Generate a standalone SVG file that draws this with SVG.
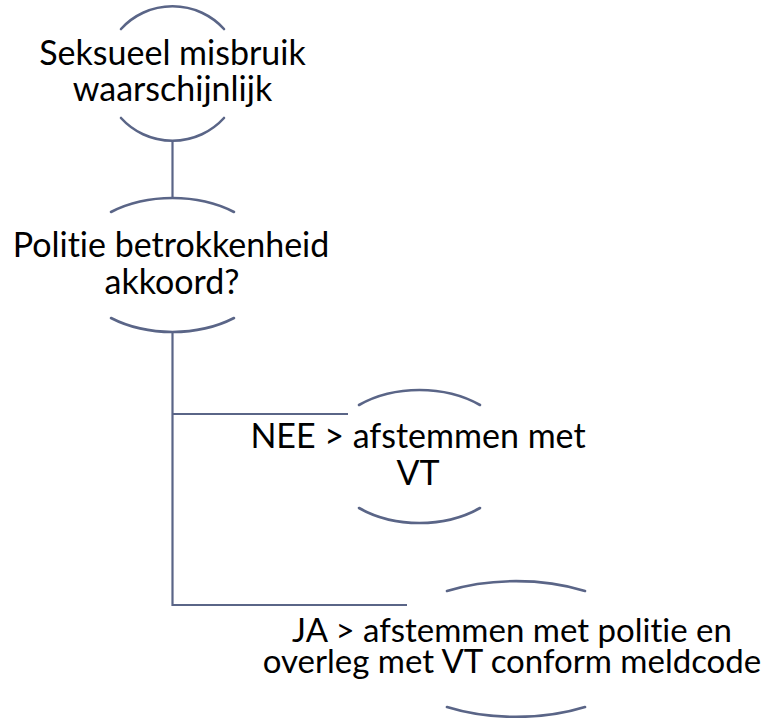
<svg xmlns="http://www.w3.org/2000/svg" width="776" height="718" viewBox="0 0 776 718">
<style>
.arc{fill:none;stroke:#5a6587;stroke-width:2.6;stroke-linecap:round}
.conn{fill:none;stroke:#5a6587;stroke-width:2.2}
text{font-family:Lato,"Open Sans","Liberation Sans",sans-serif;font-size:34px;fill:#000;text-anchor:middle;font-variant-ligatures:none}
.tight{font-size:33px}
</style>
<rect width="776" height="718" fill="#fff"/>
<g id="connectors">
<line class="conn" x1="172.5" y1="142" x2="172.5" y2="198"/>
<polyline class="conn" points="172.5,333 172.5,605 407,605"/>
<line class="conn" x1="172.5" y1="414" x2="348" y2="414"/>
</g>
<g id="node1">
<path class="arc" d="M121,29 A69,68 0 0 1 224,29"/>
<path class="arc" d="M121,118 A69,68 0 0 0 224,118"/>
<text x="172.5" y="65">Seksueel misbruik</text>
<text x="172.5" y="101">waarschijnlijk</text>
</g>
<g id="node2">
<path class="arc" d="M111,212 A101,67.5 0 0 1 234,212"/>
<path class="arc" d="M111,318 A101,67.5 0 0 0 234,318"/>
<text x="171" y="257">Politie betrokkenheid</text>
<text x="172" y="294">akkoord?</text>
</g>
<g id="node3">
<path class="arc" d="M359,405 A96,67 0 0 1 480,405"/>
<path class="arc" d="M359,508 A96,67 0 0 0 480,508"/>
<text x="418" y="448">NEE &gt; afstemmen met</text>
<text x="418" y="485">VT</text>
</g>
<g id="node4">
<path class="arc" d="M447,591 A133,68 0 0 1 585,591"/>
<path class="arc" d="M447,707 A133,68 0 0 0 585,707"/>
<text class="tight" x="512" y="642">JA &gt; afstemmen met politie en</text>
<text class="tight" x="512" y="673">overleg met VT conform meldcode</text>
</g>
</svg>
